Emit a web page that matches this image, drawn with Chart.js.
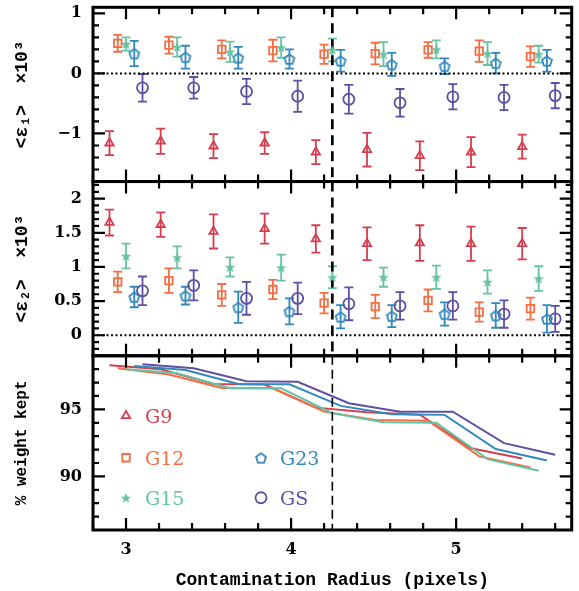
<!DOCTYPE html>
<html>
<head>
<meta charset="utf-8">
<script src="https://cdn.jsdelivr.net/npm/chart.js@4/dist/chart.umd.min.js"></script>
<style>
  html, body { margin: 0; padding: 0; background: #fff; }
  canvas { display: block; }
</style>
</head>
<body>
<canvas id="chart" width="579" height="591"></canvas>
<script>
// =========================
// data
// =========================
const radii = [2.9, 3.21, 3.53, 3.84, 4.15, 4.46, 4.78, 5.09, 5.4];
const fields = ["G9", "G12", "G15", "G23", "GS"];
// each field is shifted a little in x so the error bars don't overlap
const fieldShift = [0, 0.05, 0.1, 0.15, 0.2];
const fieldColors = ["#D53E4F", "#F46D43", "#66C2A5", "#3288BD", "#5E4FA2"];

// <e1> x 10^3, one row per field
const e1Mean = [
  [-1.16, -1.13, -1.21, -1.16, -1.31, -1.27, -1.37, -1.31, -1.22],
  [0.5, 0.47, 0.4, 0.38, 0.32, 0.33, 0.39, 0.37, 0.28],
  [0.49, 0.44, 0.36, 0.43, 0.39, 0.32, 0.4, 0.33, 0.32],
  [0.33, 0.27, 0.26, 0.24, 0.21, 0.15, 0.12, 0.17, 0.21],
  [-0.24, -0.24, -0.3, -0.38, -0.43, -0.49, -0.39, -0.4, -0.37],
];
const e1Err = [
  [0.2, 0.21, 0.2, 0.18, 0.2, 0.28, 0.24, 0.25, 0.2],
  [0.14, 0.14, 0.15, 0.18, 0.16, 0.18, 0.13, 0.18, 0.17],
  [0.11, 0.16, 0.17, 0.17, 0.19, 0.2, 0.15, 0.19, 0.14],
  [0.21, 0.19, 0.18, 0.16, 0.18, 0.19, 0.13, 0.17, 0.18],
  [0.23, 0.18, 0.21, 0.26, 0.24, 0.23, 0.21, 0.21, 0.21],
];

// <e2> x 10^3
const e2Mean = [
  [1.65, 1.62, 1.52, 1.56, 1.41, 1.34, 1.35, 1.34, 1.34],
  [0.78, 0.8, 0.59, 0.67, 0.47, 0.42, 0.51, 0.34, 0.39],
  [1.16, 1.14, 1.0, 0.99, 0.85, 0.85, 0.85, 0.78, 0.83],
  [0.56, 0.58, 0.41, 0.35, 0.27, 0.28, 0.31, 0.29, 0.24],
  [0.65, 0.73, 0.54, 0.54, 0.46, 0.43, 0.43, 0.31, 0.24],
];
const e2Err = [
  [0.19, 0.18, 0.25, 0.22, 0.2, 0.24, 0.26, 0.25, 0.23],
  [0.15, 0.18, 0.16, 0.14, 0.15, 0.17, 0.16, 0.14, 0.16],
  [0.18, 0.16, 0.14, 0.19, 0.16, 0.14, 0.17, 0.17, 0.18],
  [0.15, 0.13, 0.23, 0.19, 0.17, 0.16, 0.17, 0.18, 0.2],
  [0.21, 0.22, 0.24, 0.23, 0.24, 0.2, 0.2, 0.2, 0.19],
];

// % weight kept
const weightKept = [
  [98.3, 98.0, 96.9, 96.85, 95.13, 94.79, 94.6, 92.1, 91.34],
  [98.06, 97.6, 96.6, 96.57, 94.83, 94.2, 94.16, 91.49, 90.67],
  [98.0, 97.7, 96.57, 96.57, 94.71, 94.04, 94.0, 91.29, 90.42],
  [98.23, 97.93, 96.9, 96.87, 95.26, 94.64, 94.59, 92.04, 91.19],
  [98.36, 98.06, 97.1, 97.06, 95.46, 94.83, 94.83, 92.48, 91.61],
];

const cutRadius = 4.25;

// axis limits and labelled ticks
const radiusLimits = [2.8, 5.7];
const e1Limits = [-1.8, 1.1];
const e2Limits = [-0.3, 2.25];
const weightLimits = [86, 99];
const radiusTicks = [3, 4, 5];
const e1Ticks = [-1, 0, 1];
const e2Ticks = [0, 0.5, 1, 1.5, 2];
const weightTicks = [90, 95];

// =========================
// marker images (pentagon / star are not built in)
// =========================
function makeMarker(size, draw) {
  const c = document.createElement("canvas");
  c.width = size;
  c.height = size;
  draw(c.getContext("2d"), size / 2);
  return c;
}

function makePentagon(color) {
  return makeMarker(14, (ctx, h) => {
    ctx.strokeStyle = color;
    ctx.lineWidth = 1.8;
    ctx.beginPath();
    for (let i = 0; i < 5; i++) {
      const a = -Math.PI / 2 + (i * 2 * Math.PI) / 5;
      ctx.lineTo(h + 5.2 * Math.cos(a), h + 0.6 + 5.2 * Math.sin(a));
    }
    ctx.closePath();
    ctx.stroke();
  });
}

function makeStar(color) {
  return makeMarker(14, (ctx, h) => {
    ctx.fillStyle = color;
    ctx.beginPath();
    for (let i = 0; i < 10; i++) {
      const a = -Math.PI / 2 + (i * Math.PI) / 5;
      const r = i % 2 === 0 ? 5.6 : 2.3;
      ctx.lineTo(h + r * Math.cos(a), h + 0.5 + r * Math.sin(a));
    }
    ctx.closePath();
    ctx.fill();
  });
}

const markerStyles = [
  { pointStyle: "triangle", radius: 4.8 },
  { pointStyle: "rect", radius: 5.3 },
  { pointStyle: makeStar(fieldColors[2]), radius: 5 },
  { pointStyle: makePentagon(fieldColors[3]), radius: 5 },
  { pointStyle: "circle", radius: 5.5 },
];

// =========================
// helpers
// =========================
function pointsFor(values, k) {
  return values.map((v, j) => ({ x: radii[j] + fieldShift[k], y: v }));
}

function isLabelled(value, list) {
  return list.some((t) => Math.abs(t - value) < 1e-6);
}

function formatTick(value) {
  const v = Math.round(value * 100) / 100;
  return v < 0 ? "\u2212" + Math.abs(v) : String(v);
}

function tickValues(min, max, step) {
  const out = [];
  for (let k = Math.ceil(min / step - 1e-6); k * step <= max + 1e-6; k++) {
    out.push(k * step);
  }
  return out;
}

// =========================
// datasets
// =========================
const datasets = [];

fields.forEach((name, k) => {
  const marker = {
    pointStyle: markerStyles[k].pointStyle,
    pointRadius: markerStyles[k].radius,
    pointBorderWidth: 1.8,
    pointBackgroundColor: "rgba(0,0,0,0)",
    pointBorderColor: fieldColors[k],
    borderColor: fieldColors[k],
    showLine: false,
  };

  datasets.push({
    label: name + " e1",
    yAxisID: "yE1",
    data: pointsFor(e1Mean[k], k),
    errors: e1Err[k],
    ...marker,
  });

  datasets.push({
    label: name + " e2",
    yAxisID: "yE2",
    data: pointsFor(e2Mean[k], k),
    errors: e2Err[k],
    ...marker,
  });

  datasets.push({
    label: name + " weight",
    yAxisID: "yW",
    data: pointsFor(weightKept[k], k),
    showLine: true,
    borderColor: fieldColors[k],
    borderWidth: 2,
    pointRadius: 0,
    order: 10 - k,
  });
});

// dotted zero lines
["yE1", "yE2"].forEach((axis) => {
  datasets.push({
    label: "zero " + axis,
    yAxisID: axis,
    data: [
      { x: radiusLimits[0], y: 0 },
      { x: radiusLimits[1], y: 0 },
    ],
    showLine: true,
    borderColor: "#000",
    borderWidth: 2,
    borderDash: [2, 2.5],
    pointRadius: 0,
  });
});

// dashed cut radius
[
  ["yE1", e1Limits, 2.6, [10, 6]],
  ["yE2", e2Limits, 2.6, [10, 6]],
  ["yW", weightLimits, 1.6, [9, 5]],
].forEach(([axis, limits, width, dash]) => {
  datasets.push({
    label: "cut " + axis,
    yAxisID: axis,
    data: [
      { x: cutRadius, y: limits[1] },
      { x: cutRadius, y: limits[0] },
    ],
    showLine: true,
    borderColor: "#000",
    borderWidth: width,
    borderDash: dash,
    pointRadius: 0,
  });
});

// =========================
// plugins
// =========================
const errorBarPlugin = {
  id: "errorBars",
  beforeDatasetsDraw(chart) {
    const { ctx } = chart;
    chart.data.datasets.forEach((ds, i) => {
      if (!ds.errors) return;
      const meta = chart.getDatasetMeta(i);
      const yScale = chart.scales[ds.yAxisID];
      ctx.save();
      ctx.strokeStyle = ds.borderColor;
      ctx.lineWidth = 1.8;
      ctx.beginPath();
      meta.data.forEach((pt, j) => {
        const v = ds.data[j].y;
        const top = yScale.getPixelForValue(v + ds.errors[j]);
        const bottom = yScale.getPixelForValue(v - ds.errors[j]);
        ctx.moveTo(pt.x, top);
        ctx.lineTo(pt.x, bottom);
        ctx.moveTo(pt.x - 4.5, top);
        ctx.lineTo(pt.x + 4.5, top);
        ctx.moveTo(pt.x - 4.5, bottom);
        ctx.lineTo(pt.x + 4.5, bottom);
      });
      ctx.stroke();
      ctx.restore();
    });
  },
};

const panelFramePlugin = {
  id: "panelFrame",
  afterDatasetsDraw(chart) {
    const { ctx, chartArea, scales } = chart;
    const xs = scales.x;
    const panels = [
      [scales.yE1, e1Ticks],
      [scales.yE2, e2Ticks],
      [scales.yW, weightTicks],
    ];

    ctx.save();
    ctx.strokeStyle = "#000";
    panels.forEach(([ys, labels]) => {
      ctx.lineWidth = 2.2;
      ctx.beginPath();
      tickValues(xs.min, xs.max, xs.options.ticks.stepSize).forEach((v) => {
        const px = xs.getPixelForValue(v);
        const len = isLabelled(v, radiusTicks) ? 12 : 7;
        ctx.moveTo(px, ys.top);
        ctx.lineTo(px, ys.top + len);
        ctx.moveTo(px, ys.bottom);
        ctx.lineTo(px, ys.bottom - len);
      });
      tickValues(ys.min, ys.max, ys.options.ticks.stepSize).forEach((v) => {
        const py = ys.getPixelForValue(v);
        const len = isLabelled(v, labels) ? 12 : 6;
        ctx.moveTo(chartArea.left, py);
        ctx.lineTo(chartArea.left + len, py);
        ctx.moveTo(chartArea.right, py);
        ctx.lineTo(chartArea.right - len, py);
      });
      ctx.stroke();

      ctx.lineWidth = 3;
      ctx.strokeRect(
        chartArea.left,
        ys.top,
        chartArea.right - chartArea.left,
        ys.bottom - ys.top,
      );
    });
    ctx.restore();
  },
};

const fieldLegendPlugin = {
  id: "fieldLegend",
  afterDraw(chart) {
    const { ctx, chartArea, scales } = chart;
    const top = scales.yW.top;
    // column / row offsets inside the bottom panel
    const spots = [
      [33, 60],
      [33, 102],
      [33, 142],
      [168, 102],
      [168, 142],
    ];
    const drawPoint = Chart.helpers && Chart.helpers.drawPoint;

    ctx.save();
    fields.forEach((name, k) => {
      const x = chartArea.left + spots[k][0];
      const y = top + spots[k][1];

      ctx.strokeStyle = fieldColors[k];
      ctx.fillStyle = "rgba(0,0,0,0)";
      ctx.lineWidth = 1.8;
      if (drawPoint) {
        drawPoint(
          ctx,
          {
            pointStyle: markerStyles[k].pointStyle,
            radius: markerStyles[k].radius,
            rotation: 0,
            borderWidth: 1.8,
          },
          x,
          y,
        );
      }

      ctx.fillStyle = fieldColors[k];
      ctx.font = "19px 'DejaVu Serif'";
      ctx.textAlign = "left";
      ctx.textBaseline = "middle";
      ctx.fillText(name, x + 19, y + 2);
    });
    ctx.restore();
  },
};

// =========================
// axes
// =========================
const tickFont = { family: "'DejaVu Serif'", size: 16, weight: "bold" };

function clearPadding(scale) {
  scale.paddingTop = 0;
  scale.paddingBottom = 0;
  scale.paddingLeft = 0;
  scale.paddingRight = 0;
}

function yAxis(limits, step, labels, title, titleSize) {
  return {
    type: "linear",
    position: "left",
    stack: "panels",
    stackWeight: 1,
    min: limits[0],
    max: limits[1],
    grid: { display: false, drawTicks: false },
    border: { display: false },
    ticks: {
      stepSize: step,
      includeBounds: false,
      autoSkip: false,
      maxTicksLimit: 100,
      padding: 11,
      color: "#000",
      font: tickFont,
      callback: (value) => (isLabelled(value, labels) ? formatTick(value) : ""),
    },
    title: {
      display: true,
      text: title,
      color: "#000",
      font: { family: "'Liberation Mono'", size: titleSize, weight: "bold" },
      padding: { top: 12, bottom: 0 },
    },
    afterFit: (scale) => {
      scale.width = 93;
      clearPadding(scale);
    },
  };
}

new Chart(document.getElementById("chart"), {
  type: "scatter",
  data: { datasets },
  options: {
    responsive: false,
    animation: false,
    events: [],
    layout: { padding: { top: 5, right: 2, left: 0, bottom: 0 } },
    plugins: {
      legend: { display: false },
      tooltip: { enabled: false },
    },
    scales: {
      x: {
        type: "linear",
        position: "bottom",
        min: radiusLimits[0],
        max: radiusLimits[1],
        grid: { display: false, drawTicks: false },
        border: { display: false },
        ticks: {
          stepSize: 0.2,
          includeBounds: false,
          autoSkip: false,
          maxTicksLimit: 100,
          maxRotation: 0,
          padding: 10,
          color: "#000",
          font: tickFont,
          callback: (value) =>
            isLabelled(value, radiusTicks) ? formatTick(value) : "",
        },
        title: {
          display: true,
          text: "Contamination Radius (pixels)",
          color: "#000",
          font: { family: "'Liberation Mono'", size: 18, weight: "bold" },
          padding: { top: 0, bottom: 0 },
        },
        afterFit: (scale) => {
          scale.height = 61;
          clearPadding(scale);
        },
      },
      // stacked axes: the last one declared sits on top
      yW: yAxis(weightLimits, 1, weightTicks, "% weight kept", 16),
      yE2: yAxis(e2Limits, 0.1, e2Ticks, "<\u03b5\u2082>  \u00d710\u00b3", 18),
      yE1: yAxis(e1Limits, 0.2, e1Ticks, "<\u03b5\u2081>  \u00d710\u00b3", 18),
    },
  },
  plugins: [errorBarPlugin, panelFramePlugin, fieldLegendPlugin],
});
</script>
</body>
</html>
